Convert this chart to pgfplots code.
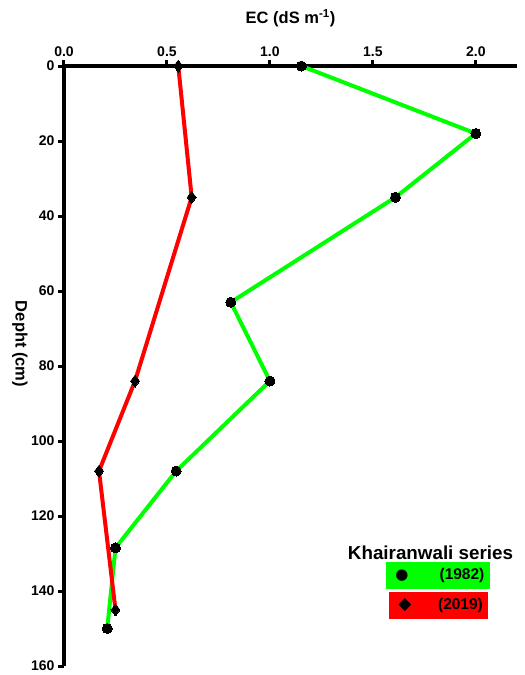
\documentclass[border=0pt]{standalone}
\usepackage{fontspec}
\setmainfont{Liberation Sans}
\newfontfamily\symfont{DejaVu Sans}
\usepackage{pgfplots}
\pgfplotsset{compat=1.18}
\definecolor{lgreen}{RGB}{0,255,0}
\definecolor{lred}{RGB}{255,0,0}
\begin{document}
\begin{tikzpicture}
\useasboundingbox (-64pt,-9pt) rectangle (461pt,666pt);
\begin{axis}[
  scale only axis, width=453pt, height=600pt, at={(0pt,0pt)}, anchor=south west,
  xmin=0, xmax=2.2, ymin=0, ymax=160, y dir=reverse,
  axis x line*=top, axis y line*=left,
  axis line style={line width=3.5pt, black},
  xtick={0,0.5,1,1.5,2}, ytick={0,20,...,160},
  tick style={line width=3pt, black}, major tick length=6pt, tick align=outside,
  /pgf/number format/assume math mode=true,
  xticklabel style={/pgf/number format/.cd,fixed,fixed zerofill,precision=1},
  ticklabel style={font=\fontsize{14}{16}\selectfont\bfseries},
  clip=false,
]
\addplot[lgreen, line width=4pt, mark=*, mark options={fill=black, draw=black, line width=0pt}, mark size=5pt]
  coordinates {(1.153,0) (2.0,18) (1.61,35) (0.81,63) (1.0,84) (0.545,108) (0.25,128.5) (0.21,150)};
\addplot[lred, line width=4pt, mark=diamond*, mark options={fill=black, draw=black, line width=0pt}, mark size=6pt]
  coordinates {(0.555,0) (0.62,35) (0.345,84) (0.17,108) (0.25,145)};
\end{axis}
\node[font=\fontsize{16.5}{18}\selectfont\bfseries] at (226.5pt,648pt) {EC (dS m\textsuperscript{-1})};
\node[rotate=-90, font=\fontsize{16.5}{18}\selectfont\bfseries] at (-44pt,322pt) {Depht (cm)};
\node[font=\fontsize{18.8}{20}\selectfont\bfseries] at (366.5pt,113pt) {Khairanwali series};
\node[fill=lgreen, minimum width=104pt, minimum height=27pt, inner sep=0pt] at (374pt,90.5pt) {};
\node[fill=lred, minimum width=99pt, minimum height=27pt, inner sep=0pt] at (374.5pt,60.5pt) {};
\node[font=\fontsize{15}{16}\selectfont\symfont] at (338pt,90.5pt) {●};
\node[font=\fontsize{17}{18}\selectfont\symfont] at (341pt,60.5pt) {◆};
\node[font=\fontsize{15.5}{17}\selectfont\bfseries] at (398pt,90.5pt) {(1982)};
\node[font=\fontsize{15.5}{17}\selectfont\bfseries] at (396.5pt,60.5pt) {(2019)};
\end{tikzpicture}
\end{document}
